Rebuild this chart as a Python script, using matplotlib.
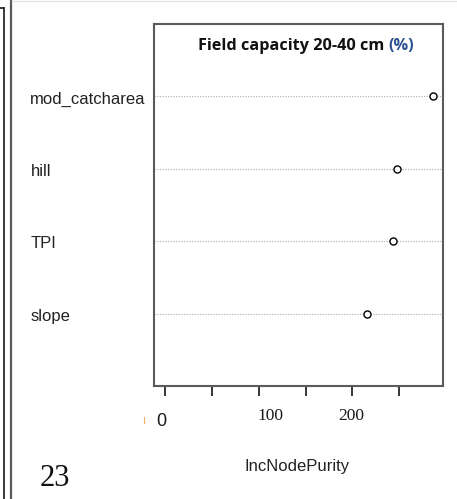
import matplotlib.pyplot as plt
from matplotlib.lines import Line2D
from matplotlib.transforms import ScaledTranslation

# variable importance (random forest), bottom to top
variables = ['slope', 'TPI', 'hill', 'mod_catcharea']
purity = [216, 244, 248, 286]

tick_pos = [0, 50, 100, 150, 200, 250]
tick_lbl = ['0', '', '100', '', '200', '']

W, H = 457, 499
fig = plt.figure(figsize=(W / 100, H / 100), dpi=100)


def px(x0, y0, x1, y1):
    # pixel box (top-left origin) -> figure fraction rect
    return [x0 / W, 1 - y1 / H, (x1 - x0) / W, (y1 - y0) / H]


ax = fig.add_axes(px(154, 24, 443, 386))

ypos = list(range(1, len(variables) + 1))
for y in ypos:
    ax.axhline(y, color='#b8b8b8', lw=0.8, ls=(0, (1.2, 1.2)), zorder=1)
ax.scatter(purity, ypos, s=26, facecolors='white', edgecolors='black',
           linewidths=1.0, zorder=3)

ax.set_xlim(-12.1, 297.1)
ax.set_ylim(0, 5)

for sp in ax.spines.values():
    sp.set_color('#5a5a5a')
    sp.set_linewidth(1.5)

# category labels, left aligned at the page margin
ax.set_yticks(ypos, variables)
ax.tick_params(axis='y', length=0, pad=89)
for lab in ax.get_yticklabels():
    lab.set_ha('left')
    lab.set_fontfamily('Liberation Sans')
    lab.set_fontsize(12)
    lab.set_color('#222222')
    lab.set_transform(lab.get_transform()
                      + ScaledTranslation(0, -1 / 100, fig.dpi_scale_trans))

ax.set_xticks(tick_pos, tick_lbl)
ax.tick_params(axis='x', direction='out', length=7.5, width=1.1,
               color='black', pad=8)
shifts = [-3.5, 0, 12, 0, -1, 0]
for lab, dx in zip(ax.get_xticklabels(), shifts):
    lab.set_transform(lab.get_transform()
                      + ScaledTranslation(dx / 100, 0, fig.dpi_scale_trans))
    if lab.get_text() == '0':
        lab.set_fontfamily('Liberation Sans')
        lab.set_fontsize(13)
        lab.set_transform(lab.get_transform()
                          + ScaledTranslation(0, -5 / 100, fig.dpi_scale_trans))
    else:
        lab.set_fontfamily('Liberation Serif')
        lab.set_fontsize(12.5)
    lab.set_color('#1a1a1a')

fig.text(297 / W, 1 - 467 / H, 'IncNodePurity', ha='center', va='center',
         fontfamily='Liberation Sans', fontsize=12, color='#222222')

# title, with the unit in blue
fig.text(384 / W, 1 - 46 / H, 'Field capacity 20-40 cm', ha='right',
         va='center', fontfamily='Open Sans', fontweight='bold',
         fontsize=11.7, color='#111111')
fig.text(388 / W, 1 - 46 / H, '(%)', ha='left', va='center',
         fontfamily='Open Sans', fontweight='bold', fontsize=11.7,
         color='#2a4f8f')

fig.text(55 / W, 1 - 479 / H, '23', ha='center', va='center',
         fontfamily='Liberation Serif', fontsize=22, color='#111111')

# page frame lines
frame = [
    ([3.7, 3.7], [7.5, H], '#2a2a2a', 1.3),
    ([0, 3.7], [7.5, 7.5], '#2a2a2a', 1.3),
    ([10.8, 10.8], [0, H], '#5a5a5a', 1.6),
    ([11.5, W], [0.5, 0.5], '#e4e4e4', 1.0),
    ([144, 144], [417, 423], '#f5b060', 0.8),
]
for xs, ys, c, lw in frame:
    fig.add_artist(Line2D([x / W for x in xs], [1 - y / H for y in ys],
                          color=c, lw=lw, transform=fig.transFigure))

fig.savefig('out.png', dpi=100)
